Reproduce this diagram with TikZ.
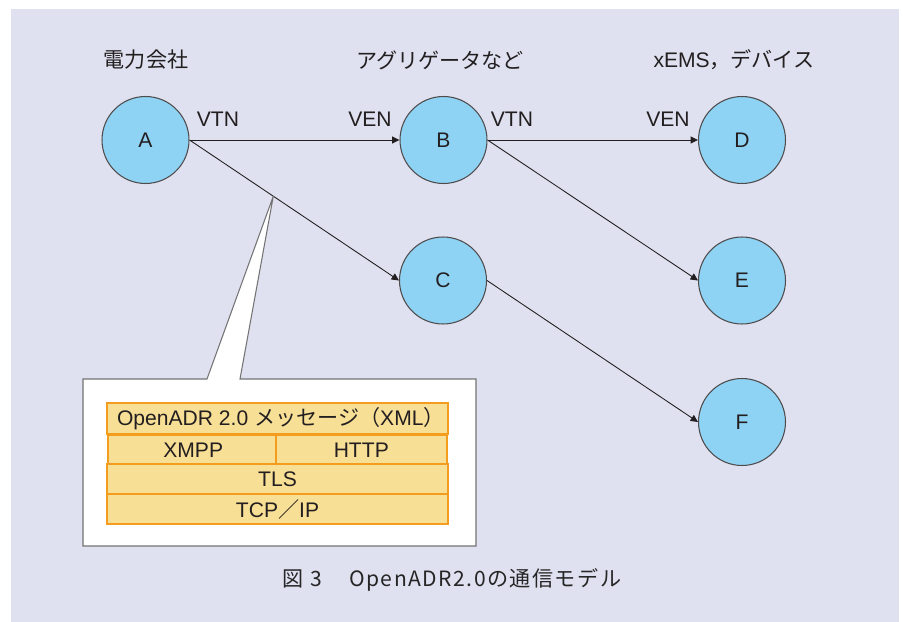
\documentclass[tikz,border=0pt]{standalone}
\usepackage{fontspec}
\setmainfont{Liberation Sans}
\newfontfamily\jpfont{Noto Sans CJK JP}
\newfontfamily\capfont{Noto Sans CJK JP}[LetterSpace=7]
\usepackage{tikz}
\usetikzlibrary{arrows.meta,positioning,calc}
\definecolor{bglav}{RGB}{223,225,240}
\definecolor{nodeblue}{RGB}{143,211,244}
\definecolor{layerfill}{RGB}{248,223,150}
\definecolor{layerline}{RGB}{243,156,30}
\definecolor{inkgray}{RGB}{35,31,32}
\tikzset{
  party/.style={circle, draw=inkgray!80, fill=nodeblue, line width=0.6pt, minimum size=1.74cm, inner sep=0pt, font=\fontsize{12}{14}\selectfont, text=inkgray},
  role/.style={font=\fontsize{12}{14}\selectfont, text=inkgray, inner sep=0pt},
  head/.style={font=\fontsize{12}{14}\selectfont, text=inkgray, inner sep=0pt},
  link/.style={-{Triangle[length=4.2pt,width=4pt]}, line width=0.5pt, inkgray},
  layer/.style={rectangle, draw=layerline, fill=layerfill, line width=1.4pt, minimum height=0.61cm, inner sep=0pt, font=\fontsize{12}{14}\selectfont, text=inkgray},
  callout/.style={draw=black!55, fill=white, line width=0.6pt}
}
\begin{document}
\begin{tikzpicture}[x=0.02cm, y=-0.02cm]
  \useasboundingbox (0,0) rectangle (903,622);
  \fill[bglav] (11,9) rectangle (899,622);

  % column headings
  \node[head] (hA) at (146,60) {\jpfont 電力会社};
  \node[head] (hB) at (440,60) {\jpfont アグリゲータなど};
  \node[head] (hD) at (734,60) {xEMS{\jpfont ，デバイス}};

  % parties
  \node[party] (A) at (145.5,140) {A};
  \node[party] (B) at (443.5,140) {B};
  \node[party] (C) at (443,280.5) {C};
  \node[party] (D) at (742,140) {D};
  \node[party] (E) at (742,280.5) {E};
  \node[party] (F) at (742,422) {F};

  \draw[link] (A.east) -- (B.west);
  \draw[link] (A.east) -- (C.west);
  \draw[link] (B.east) -- (D.west);
  \draw[link] (B.east) -- (E.west);
  \draw[link] (C.east) -- (F.west);

  \node[role] (vtnA) at (218,119) {VTN};
  \node[role] (venB) at (370,119) {VEN};
  \node[role] (vtnB) at (512,119) {VTN};
  \node[role] (venD) at (668,119) {VEN};

  % callout with the protocol stack
  \coordinate (tip) at ($(A.east)!0.4!(C.west)$);
  \draw[callout] (83,379) -- (207,379) -- (tip) -- (240,379) -- (476,379)
    -- (476,546) -- (83,546) -- cycle;

  \node[layer, minimum width=6.82cm] (msg) at (277.5,418.5)
    {\makebox[6.42cm][l]{OpenADR 2.0 {\jpfont メッセージ（}XML{\jpfont ）}}};
  \node[layer, minimum width=3.4cm, anchor=north west] (xmpp) at (107,434) {XMPP};
  \node[layer, minimum width=3.42cm, anchor=north east] (http) at (448,434) {HTTP};
  \node[layer, minimum width=6.82cm] (tls) at (277.5,479) {TLS};
  \node[layer, minimum width=6.82cm] (tcp) at (277.5,509) {TCP{\jpfont ／}IP};

  % caption
  \node[font=\fontsize{12}{14}\selectfont, text=black!85, inner sep=0pt] (cap) at (452,580)
    {\capfont 図 3\hspace{1.3em}OpenADR2.0の通信モデル};
\end{tikzpicture}
\end{document}
